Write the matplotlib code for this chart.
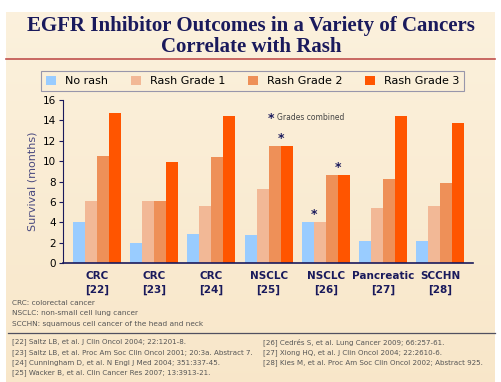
import numpy as np
import matplotlib.pyplot as plt
from matplotlib.lines import Line2D

# data
groups = ["CRC\n[22]", "CRC\n[23]", "CRC\n[24]", "NSCLC\n[25]", "NSCLC\n[26]", "Pancreatic\n[27]", "SCCHN\n[28]"]
series = ["No rash", "Rash Grade 1", "Rash Grade 2", "Rash Grade 3"]
no_rash = [4.0, 2.0, 2.8, 2.7, 4.0, 2.2, 2.2]
grade1 = [6.1, 6.1, 5.6, 7.3, 4.0, 5.4, 5.6]
grade2 = [10.5, 6.1, 10.4, 11.5, 8.6, 8.2, 7.9]
grade3 = [14.7, 9.9, 14.4, 11.5, 8.6, 14.4, 13.7]
# stars mark combined grades: (group index, position between bars, value)
stars = [(3, 2.5, 11.5), (4, 0.5, 4.0), (4, 2.5, 8.6)]
colors = ["#99CCFF", "#F2B896", "#EE9058", "#FF5500"]
navy = "#1A1A5C"

abbrevs = ["CRC: colorectal cancer",
           "NSCLC: non-small cell lung cancer",
           "SCCHN: squamous cell cancer of the head and neck"]
refs_left = ["[22] Saltz LB, et al. J Clin Oncol 2004; 22:1201-8.",
             "[23] Saltz LB, et al. Proc Am Soc Clin Oncol 2001; 20:3a. Abstract 7.",
             "[24] Cunningham D, et al. N Engl J Med 2004; 351:337-45.",
             "[25] Wacker B, et al. Clin Cancer Res 2007; 13:3913-21."]
refs_right = ["[26] Cedrés S, et al. Lung Cancer 2009; 66:257-61.",
              "[27] Xiong HQ, et al. J Clin Oncol 2004; 22:2610-6.",
              "[28] Kies M, et al. Proc Am Soc Clin Oncol 2002; Abstract 925."]

W, H = 502, 382
fig = plt.figure(figsize=(W / 100, H / 100), dpi=100)
fig.patch.set_facecolor("white")

# beige slide background with soft gradient
bg = fig.add_axes([6 / W, 0, 489 / W, 1 - 12 / H], zorder=-5)
grad = np.linspace(0, 1, 256).reshape(-1, 1)
top = np.array([0.985, 0.945, 0.865])
bot = np.array([0.975, 0.905, 0.790])
img = top + (bot - top) * grad[:, :, None]
bg.imshow(img, aspect="auto", extent=[0, 1, 0, 1])
bg.axis("off")

def fx(px):
    return px / W

def fy(py):
    return 1 - py / H

fig.text(0.5, fy(26), "EGFR Inhibitor Outcomes in a Variety of Cancers",
         ha="center", va="center", family="Liberation Serif", weight="bold",
         fontsize=15, color=navy)
fig.text(0.5, fy(47), "Correlate with Rash", ha="center", va="center",
         family="Liberation Serif", weight="bold", fontsize=15, color=navy)
fig.add_artist(Line2D([fx(6), fx(495)], [fy(59), fy(59)], color="#C0504D", lw=1.2))

ax = fig.add_axes([fx(63), fy(263), fx(410), 163 / H])
ax.patch.set_alpha(0)
x = np.arange(len(groups))
bw = 0.21
for k, vals in enumerate([no_rash, grade1, grade2, grade3]):
    ax.bar(x + (k - 1.5) * bw, vals, bw, color=colors[k], label=series[k], zorder=2)

for g, pos, v in stars:
    ax.text(g + (pos - 1.5) * bw, v + 0.75, "*", ha="center", va="center",
            fontsize=9, weight="bold", color=navy)
ax.text(3.05, 14.2, "*", ha="center", va="center", fontsize=9, weight="bold", color=navy)
ax.text(3.14, 14.3, "Grades combined", ha="left", va="center", fontsize=5.5, color="#444444")

ax.set_xlim(-0.59, 6.57)
ax.set_ylim(0, 16)
ax.set_yticks(np.arange(0, 17, 2))
ax.set_xticks(x)
ax.set_xticklabels(groups, fontsize=7.5, weight="bold", color=navy, linespacing=1.4)
ax.tick_params(axis="x", length=0, pad=6)
ax.tick_params(axis="y", labelsize=7.5, length=3, width=0.8, color=navy, pad=2)
ax.set_ylabel("Survival (months)", fontsize=8, color="#4A4A80", labelpad=4)
for s in ["top", "right"]:
    ax.spines[s].set_visible(False)
ax.spines["left"].set_color(navy)
ax.spines["bottom"].set_color(navy)
ax.spines["bottom"].set_linewidth(1.2)

leg = fig.legend(loc="lower left", bbox_to_anchor=(fx(41), fy(91), fx(423), 22 / H),
                 mode="expand", ncol=4, fontsize=8, frameon=True, fancybox=False,
                 handlelength=0.9, handleheight=0.9, handletextpad=0.8,
                 borderaxespad=0, borderpad=0.45)
leg.get_frame().set_edgecolor("#8080A0")
leg.get_frame().set_facecolor("none")
leg.get_frame().set_linewidth(0.8)

for i, t in enumerate(abbrevs):
    fig.text(fx(12), fy(303 + 10.5 * i), t, fontsize=5.3, color="#555555", va="center")
fig.add_artist(Line2D([fx(8), fx(495)], [fy(333), fy(333)], color="#505060", lw=0.9))
for i, t in enumerate(refs_left):
    fig.text(fx(12), fy(342 + 10.3 * i), t, fontsize=5.1, color="#555555", va="center")
for i, t in enumerate(refs_right):
    fig.text(fx(263), fy(342 + 10.3 * i), t, fontsize=5.1, color="#555555", va="center")

fig.savefig("out.png", dpi=100)
